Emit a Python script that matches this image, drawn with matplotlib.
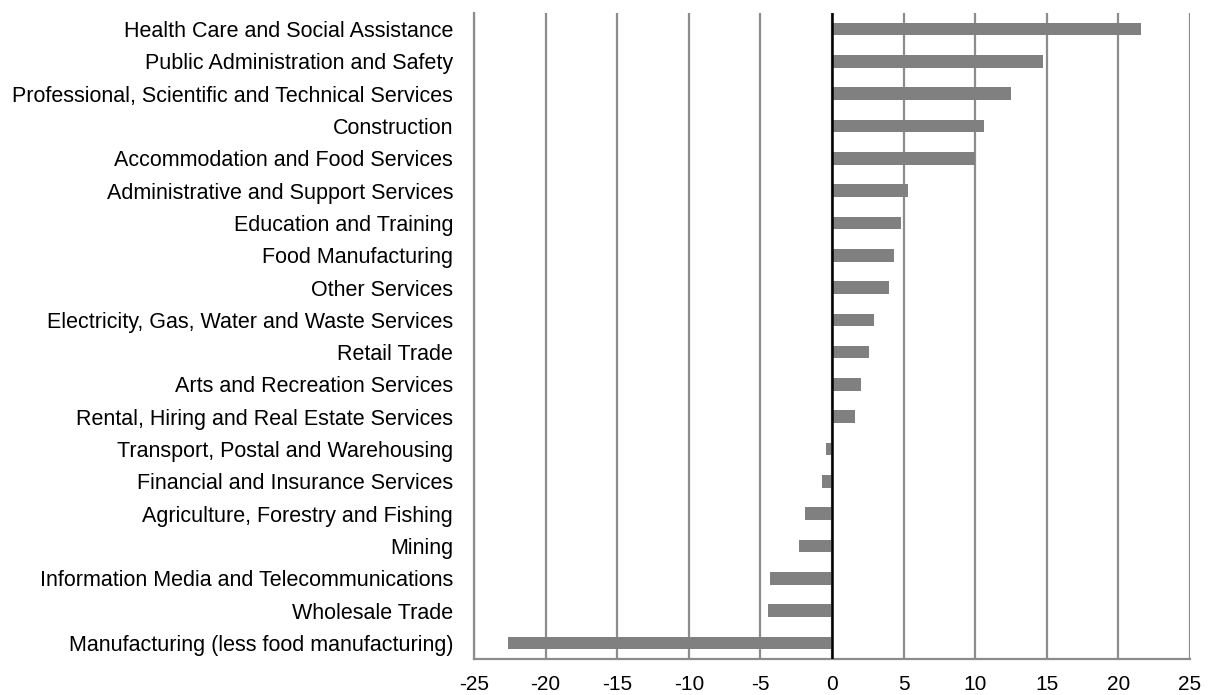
import matplotlib
matplotlib.use("Agg")
import matplotlib.pyplot as plt

industries = [
    "Health Care and Social Assistance",
    "Public Administration and Safety",
    "Professional, Scientific and Technical Services",
    "Construction",
    "Accommodation and Food Services",
    "Administrative and Support Services",
    "Education and Training",
    "Food Manufacturing",
    "Other Services",
    "Electricity, Gas, Water and Waste Services",
    "Retail Trade",
    "Arts and Recreation Services",
    "Rental, Hiring and Real Estate Services",
    "Transport, Postal and Warehousing",
    "Financial and Insurance Services",
    "Agriculture, Forestry and Fishing",
    "Mining",
    "Information Media and Telecommunications",
    "Wholesale Trade",
    "Manufacturing (less food manufacturing)",
]
change = [21.6, 14.7, 12.5, 10.6, 10.0, 5.3, 4.8, 4.3, 4.0, 2.95,
          2.6, 2.05, 1.6, -0.4, -0.7, -1.9, -2.3, -4.3, -4.45, -22.6]
x_ticks = [-25, -20, -15, -10, -5, 0, 5, 10, 15, 20, 25]

plt.rcParams["font.family"] = ["Liberation Sans", "DejaVu Sans"]

fig = plt.figure(figsize=(12.10, 6.95), dpi=100)
ax = fig.add_axes([474 / 1210, 1 - 659 / 695, 716 / 1210, 646 / 695])

n = len(industries)
ypos = list(range(n - 1, -1, -1))
ax.barh(ypos, change, height=0.39, color="#808080", zorder=3)

ax.set_xlim(-25, 25)
ax.set_ylim(-0.5, n - 0.5)
ax.set_xticks(x_ticks)
ax.set_xticklabels([str(t) for t in x_ticks], fontsize=15)
ax.set_yticks(ypos)
ax.set_yticklabels(industries, fontsize=15.5)
ax.tick_params(axis="both", length=0, colors="black")
ax.tick_params(axis="x", pad=11.5)
ax.tick_params(axis="y", pad=15)

ax.grid(axis="x", color="#8c8c8c", linewidth=1.6, zorder=1)
ax.axvline(0, color="black", linewidth=1.8, zorder=4)

for side in ("top", "right"):
    ax.spines[side].set_visible(False)
for side in ("left", "bottom"):
    ax.spines[side].set_color("#8c8c8c")
    ax.spines[side].set_linewidth(1.6)

fig.savefig("out.png", dpi=100)
